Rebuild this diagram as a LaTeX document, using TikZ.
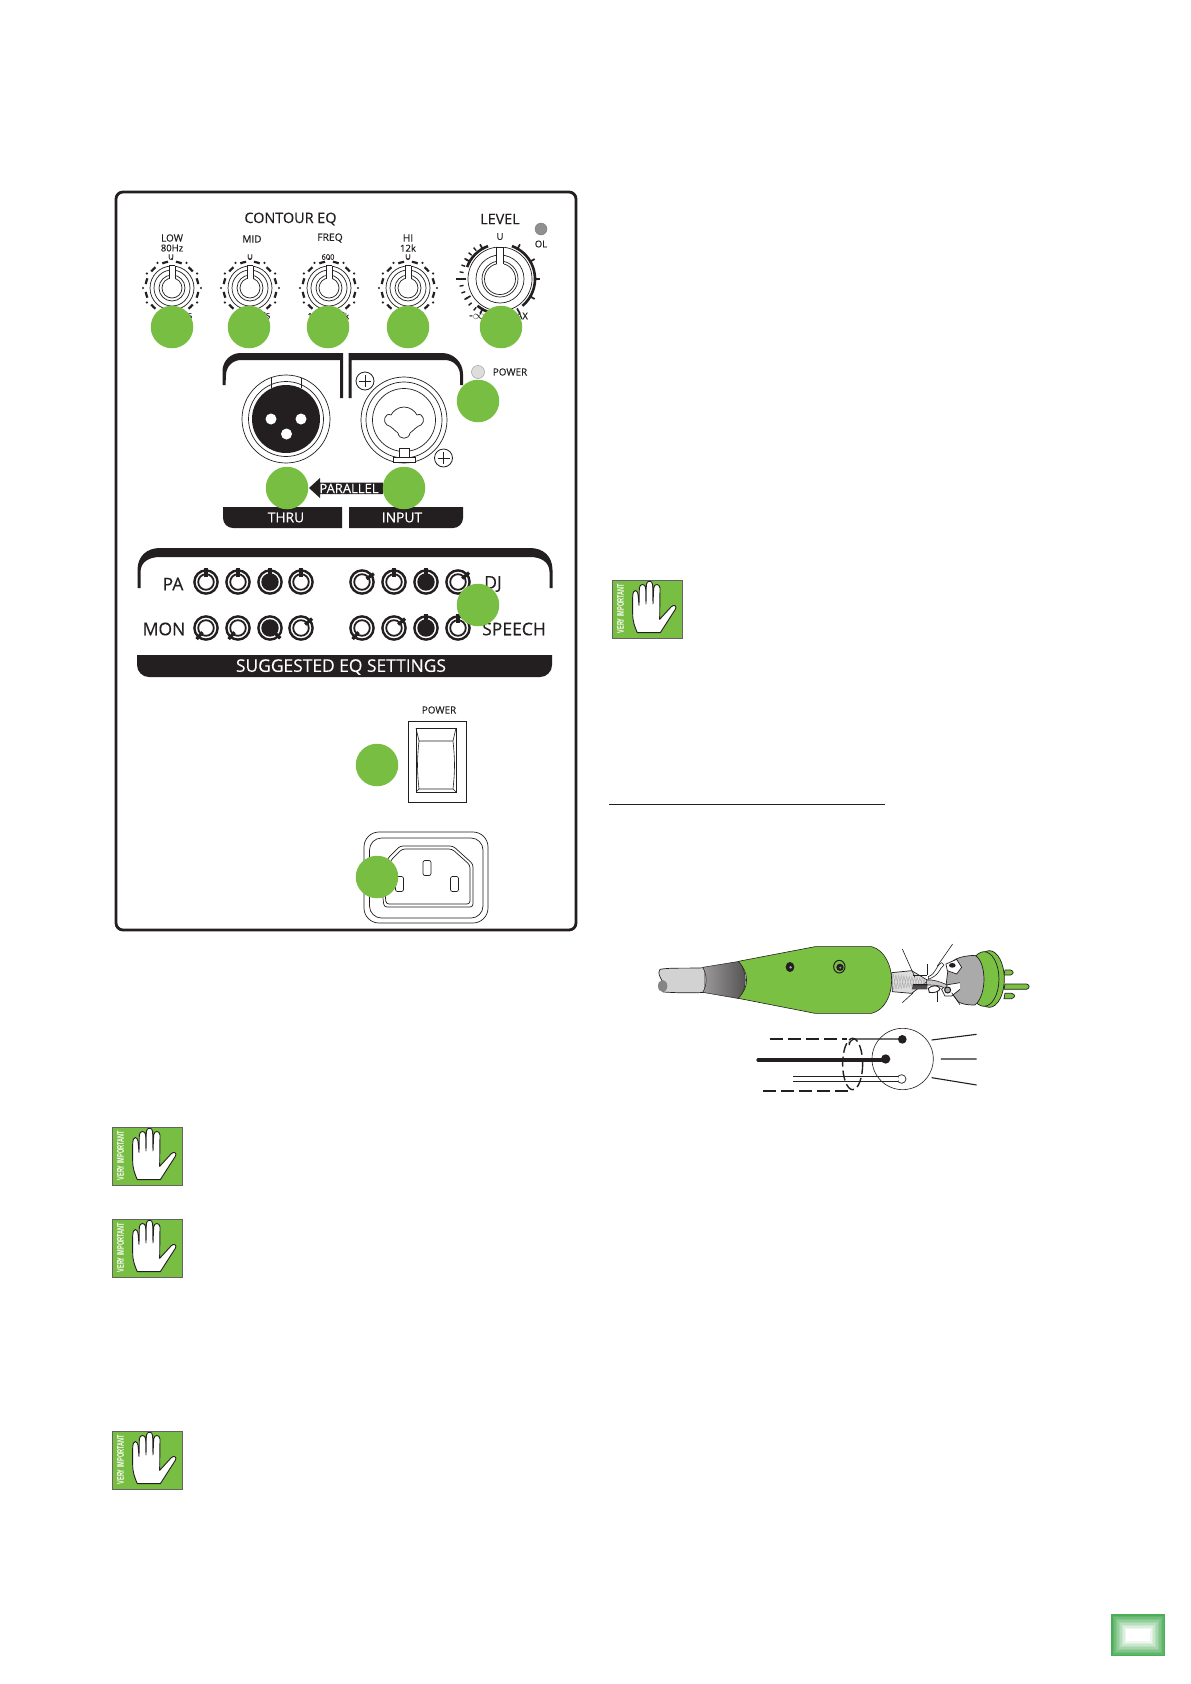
\documentclass[tikz,border=0pt]{standalone}
\usepackage{fontspec}
\setmainfont{Open Sans}[FakeBold=0.3]
\newfontfamily\vif{Liberation Sans}
\definecolor{grn}{HTML}{78BE43}
\definecolor{ink}{HTML}{231F20}
\definecolor{plugg}{HTML}{7AC143}
\definecolor{tabg}{HTML}{4DAE5A}
\tikzset{
  dot/.style={circle,fill=grn,draw=none,minimum size=42.5pt,inner sep=0pt},
  lab/.style={inner sep=0pt,text=ink},
  whitelab/.style={inner sep=0pt,text=white},
  thin1/.style={draw=ink,line width=.7pt},
}
\newcommand{\smallknob}[2]{%
  \begin{scope}[shift={(#1,#2)}]
    \foreach \r in {22,18,13,10} \draw[thin1] (0,0) circle (\r);
    \fill[white] (-3,-23) rectangle (3,-9);
    \draw[thin1] (-3,-22.5) -- (-3,-9.5) (3,-22.5) -- (3,-9.5) (-3,-22.5) -- (3,-22.5);
    \foreach \a in {-60,-30,...,240} \fill[ink] ({-\a}:29) circle (1.2);
    \foreach \a in {-45,-15,...,225} \draw[ink,line width=2.2pt] ({-\a-6.5}:26.5) arc ({-\a-6.5}:{-\a+6.5}:26.5);
  \end{scope}}
\newcommand{\eqknob}[4]{% x y angle filled
  \begin{scope}[shift={(#1,#2)}]
    \draw[ink,line width=2.4pt,fill=white] (0,0) circle (11.6);
    \draw[ink,line width=1.8pt,fill=#4] (0,0) circle (7.8);
    \draw[ink,line width=3.2pt] (#3:5.5) -- (#3:14.5);
  \end{scope}}
\newcommand{\veryimp}[2]{%
  \begin{scope}[shift={(#1,#2)},x=.3333pt,y=-.3333pt]
    \fill[grn] (0,0) rectangle (212,176);
    \draw[ink!70,line width=.5pt] (0,0) rectangle (212,176);
    \node[whitelab,rotate=90,xscale=.58,font=\vif\bfseries\fontsize{9.6}{10}\selectfont] at (26,86) {VERY IMPORTANT};
    \draw[ink,fill=white,line width=.9pt,line join=round]
      (62,52) .. controls (62,24) and (78,24) .. (79,52) -- (81,76)
      -- (82,24) .. controls (83,10) and (100,10) .. (101,24) -- (102,72)
      -- (103,14) .. controls (104,0) and (121,0) .. (122,14) -- (123,72)
      -- (125,24) .. controls (126,10) and (143,10) .. (144,24) -- (143,118)
      -- (178,80) .. controls (186,72) and (196,78) .. (190,88)
      -- (145,158) -- (76,158) .. controls (68,140) and (62,125) .. (62,100) -- cycle;
  \end{scope}}
\begin{document}
\begin{tikzpicture}[x=1pt,y=-1pt]
\useasboundingbox (0,0) rectangle (1191,1684);
\fill[white] (0,0) rectangle (1191,1684);
% panel frame
\draw[ink,line width=2.8pt,rounded corners=7pt] (116,192) rectangle (576,930);
% headings
\node[lab,font=\fontsize{14.4}{15}\selectfont] (contour) at (290.5,219) {CONTOUR EQ};
\node[lab,font=\fontsize{14.4}{15}\selectfont] (level) at (500,219) {LEVEL};
\node[lab,font=\fontsize{10}{10}\selectfont] (low) at (172,238) {LOW};
\node[lab,font=\fontsize{9.5}{10}\selectfont] (hz) at (172,248) {80Hz};
\node[lab,font=\fontsize{10}{10}\selectfont] (mid) at (252,239) {MID};
\node[lab,font=\fontsize{10.3}{10}\selectfont] (freq) at (330,238) {FREQ};
\node[lab,font=\fontsize{10}{10}\selectfont] (hi) at (408,238) {HI};
\node[lab,font=\fontsize{9.5}{10}\selectfont] (k12) at (408,248) {12k};
\node[lab,font=\fontsize{7.5}{8}\selectfont] (u1) at (171,257) {U};
\node[lab,font=\fontsize{7.5}{8}\selectfont] (u2) at (250,257) {U};
\node[lab,font=\fontsize{7.5}{8}\selectfont] (f600) at (328,257) {600};
\node[lab,font=\fontsize{7.5}{8}\selectfont] (u4) at (408,257) {U};
\node[lab,font=\fontsize{9.5}{10}\selectfont] (u5) at (500,236.5) {U};
% knobs
\smallknob{172}{288}
\smallknob{250}{288}
\smallknob{329}{288}
\smallknob{408}{288}
\begin{scope}[shift={(500,279)}]
  \foreach \r in {32,24,18,15.5} \draw[thin1] (0,0) circle (\r);
  \fill[white] (-3.5,-33) rectangle (3.5,-14);
  \draw[thin1] (-3.5,-32) -- (-3.5,-15) (3.5,-32) -- (3.5,-15) (-3.5,-32) -- (3.5,-32);
  \draw[ink,line width=2.6pt] (-70:35) arc (-70:50:35);
  \draw[ink,line width=2.6pt] (-110:35) arc (-110:-160:35);
  \draw[ink,line width=2.6pt] (130:35) arc (130:80:35);
  \foreach \a in {-60,-30,...,240} \draw[ink,line width=1.7pt] (\a:34) -- (\a:40);
  \foreach \a in {130,140,...,230} \draw[ink,line width=1.4pt] (\a:37) -- (\a:41);
  \draw[ink,line width=2pt] (180:34) -- (180:44);
\end{scope}
% scale labels partly behind the dots
\node[lab,font=\fontsize{8}{8}\selectfont] at (190,316) {5};
\node[lab,font=\fontsize{8}{8}\selectfont] at (268,316) {5};
\node[lab,font=\fontsize{8}{8}\selectfont] at (310,316) {1};
\node[lab,font=\fontsize{8}{8}\selectfont] at (347,316) {k};
\node[lab,font=\fontsize{12}{12}\selectfont] (inf) at (477,316.5) {-$\infty$};
\node[lab,font=\fontsize{9.3}{10}\selectfont] (max) at (518,316) {MAX};
% OL / power LEDs
\draw[ink!60,line width=.4pt,fill=ink!50] (541,229) circle (6);
\node[lab,font=\fontsize{9.5}{10}\selectfont] (ol) at (541,244) {OL};
\draw[ink!50,line width=.4pt,fill=ink!15] (478,372) circle (6.5);
\node[lab,font=\fontsize{9.9}{10}\selectfont] (pwr) at (510,372) {POWER};
% connector brackets
\fill[ink] (222.5,385) -- (222.5,371) arc (180:270:18) -- (343,353) -- (343,398) -- (340,398) -- (340,360) -- (241,360) arc (270:180:15) -- (225.5,385) -- cycle;
\fill[ink] (348.5,398) -- (348.5,353) -- (442,353) arc (270:360:21) -- (463,385) -- (460,385) -- (460,375) arc (360:270:15) -- (351.5,360) -- (351.5,398) -- cycle;
% XLR
\draw[thin1] (286,419) circle (44);
\draw[thin1] (286,419) circle (37.5);
\draw[thin1] (271,377.6) -- (271,388) (301,377.6) -- (301,388);
\fill[ink] (286,419) circle (34);
\foreach \x/\y in {271/419,301/419,286.5/434} \fill[white] (\x,\y) circle (5.5);
% combo
\draw[thin1] (404,420) circle (43);
\draw[thin1] (404,420) circle (38);
\draw[thin1] (404,420) circle (31.5);
\draw[thin1,line join=round] (404,407) .. controls (410,407) and (415,411) .. (417,415)
  .. controls (423,412) and (426,422) .. (421,425)
  .. controls (417,426) and (414,430) .. (410,433)
  .. controls (409,440) and (399,440) .. (398,433)
  .. controls (394,430) and (391,426) .. (387,425)
  .. controls (382,422) and (385,412) .. (391,415)
  .. controls (393,411) and (398,407) .. (404,407) -- cycle;
\draw[thin1,fill=white] (393.5,457) rectangle (415,462.5);
\draw[thin1,fill=white] (399,448.5) rectangle (409.5,457);
% plus screws
\foreach \x/\y in {365/381,443.5/458} {
  \draw[ink,line width=.8pt,fill=white] (\x,\y) circle (9);
  \draw[ink,line width=.7pt] (\x-6,\y) -- (\x+6,\y) (\x,\y-6) -- (\x,\y+6);
}
% parallel
\fill[ink] (309,488) -- (320,478) -- (320,482.5) -- (383,482.5) -- (383,494) -- (320,494) -- (320,498) -- cycle;
\node[whitelab,font=\fontsize{13}{13}\selectfont] (par) at (349,488.5) {PARALLEL};
% thru / input bars
\fill[ink] (223,507) -- (342,507) -- (342,528) -- (233,528) arc (90:180:10) -- cycle;
\fill[ink] (349,507) -- (463,507) -- (463,518) arc (0:90:10) -- (349,528) -- cycle;
\node[whitelab,font=\fontsize{13.8}{14}\selectfont] (thru) at (286,517.5) {THRU};
\node[whitelab,font=\fontsize{13.8}{14}\selectfont] (input) at (402,517.5) {INPUT};
% suggested EQ
\fill[ink] (137.5,588) -- (137.5,570) .. controls (137.5,556) and (147,548) .. (160,548) -- (530,548)
  .. controls (543,548) and (552.5,556) .. (552.5,570) -- (552.5,588) -- (549.5,588) -- (549.5,572)
  .. controls (549.5,562) and (541,557) .. (530,557) -- (160,557)
  .. controls (149,557) and (140.5,562) .. (140.5,572) -- (140.5,588) -- cycle;
\node[lab,font=\fontsize{17.5}{18}\selectfont] (pa) at (173,584) {PA};
\node[lab,font=\fontsize{17.5}{18}\selectfont] (mon) at (164,629) {MON};
\node[lab,font=\fontsize{17.5}{18}\selectfont] (dj) at (493,584) {DJ};
\node[lab,font=\fontsize{17.5}{18}\selectfont] (speech) at (514,629) {SPEECH};
\eqknob{206}{582}{-90}{white}
\eqknob{238}{582}{-90}{white}
\eqknob{270}{582}{-90}{ink}
\eqknob{301}{582}{-90}{white}
\eqknob{362}{582}{-35}{white}
\eqknob{394}{582}{-90}{white}
\eqknob{426}{582}{-90}{ink}
\eqknob{458}{582}{-40}{white}
\eqknob{206}{628}{130}{white}
\eqknob{238}{628}{130}{white}
\eqknob{270}{628}{45}{ink}
\eqknob{301}{628}{-40}{white}
\eqknob{362}{628}{130}{white}
\eqknob{394}{628}{-40}{white}
\eqknob{426}{628}{-90}{ink}
\eqknob{458}{628}{-90}{white}
\fill[ink] (137,655) -- (552,655) -- (552,665) arc (0:90:12) -- (149,677) arc (90:180:12) -- cycle;
\node[whitelab,font=\fontsize{17.4}{18}\selectfont] (sugg) at (341,667) {SUGGESTED EQ SETTINGS};
% power switch
\node[lab,font=\fontsize{9.9}{10}\selectfont] (sw) at (439,710) {POWER};
\draw[ink,line width=.8pt] (408,721) rectangle (466,802);
\draw[ink,line width=.8pt] (416,728) rectangle (456,792);
\draw[ink,line width=.6pt] (416,728) -- (419,741) -- (453,741) -- (456,728)
  (419,741) .. controls (417,760) and (417,770) .. (419,789) -- (453,789) .. controls (455,770) and (455,760) .. (453,741);
\draw[ink,line width=.6pt] (416,792) -- (419,789) (456,792) -- (453,789);
% IEC inlet
\draw[ink,line width=.7pt,rounded corners=15pt] (364,832) rectangle (488,923);
\draw[ink,line width=.7pt,rounded corners=12pt] (369.5,838) rectangle (483,918);
\draw[ink,line width=.7pt,rounded corners=3pt] (388,858) -- (400,846) -- (453,846) -- (473,864) -- (473,907) -- (384,907) -- (381,880) -- cycle;
\draw[ink,line width=.7pt,rounded corners=3pt] (391,860) -- (402,849) -- (452,849) -- (470,865) -- (470,904) -- (386,904) -- (384,880) -- cycle;
\foreach \x/\y in {427/868,399.5/884,454.5/884}
  \draw[ink,line width=.7pt,rounded corners=2pt] (\x-4,\y-7.5) rectangle (\x+4,\y+7.5);
% XLR plug illustration (coordinates in 3x crop units)
\begin{scope}[shift={(650,930)},x=.3333pt,y=-.3333pt]
  % cable
  \draw[thin1,fill=ink!20] (30,118) .. controls (60,112) and (120,116) .. (165,113) -- (165,187)
    .. controls (120,190) and (70,188) .. (40,186) .. controls (30,176) and (40,170) .. (35,150) .. controls (30,140) and (22,130) .. (30,118) -- cycle;
  \fill[ink!55] (38,168) ellipse (14 and 18);
  \draw[ink,line width=.5pt,left color=ink!45,right color=ink!78] (158,112) -- (268,94) .. controls (292,125) and (292,175) .. (268,206) -- (158,187)
    .. controls (172,165) and (172,135) .. (158,112) -- cycle;
  % braid
  \draw[thin1,fill=ink!15] (725,128) -- (785,122) -- (835,152) -- (785,190) -- (727,185) -- cycle;
  \foreach \i in {0,...,12} \draw[ink!40,line width=.4pt] (730+\i*8,132+\i) -- (722+\i*8,180-\i) (722+\i*8,134+\i) -- (730+\i*8,178-\i);
  % body
  \draw[ink,line width=.6pt,fill=plugg] (265,94) -- (495,50) -- (665,50) .. controls (705,60) and (725,110) .. (725,150)
    .. controls (725,195) and (705,240) .. (665,250) -- (495,250) -- (265,205) .. controls (298,170) and (298,130) .. (265,94) -- cycle;
  \fill[ink] (420,111) ellipse (13 and 15);
  \fill[ink!40] (422,112) circle (4);
  \draw[ink,line width=1pt] (568,110) ellipse (17 and 19);
  \fill[ink] (570,112) circle (11);
  \fill[ink!50] (571,113) circle (3.5);
  % rear flange and pins
  \draw[thin1,fill=plugg] (1065,120) -- (1082,120) .. controls (1092,123) and (1092,132) .. (1082,135) -- (1062,135) -- cycle;
  \draw[thin1,fill=plugg] (1065,162) -- (1130,162) .. controls (1140,165) and (1140,174) .. (1130,178) -- (1062,178) -- cycle;
  \draw[thin1,fill=plugg] (1065,190) -- (1085,190) .. controls (1097,193) and (1097,202) .. (1085,206) -- (1062,206) -- cycle;
  \draw[thin1,fill=plugg] (1018,147) ellipse (45 and 85);
  \draw[thin1,fill=plugg] (1002,147) ellipse (45 and 82);
  % shell
  \draw[thin1,fill=ink!38] (895,110) .. controls (905,90) and (925,78) .. (975,76) .. controls (1010,95) and (1012,195) .. (975,225) .. controls (950,225) and (935,222) .. (925,215) -- (888,168) -- cycle;
  \draw[thin1,fill=white] (888,102) -- (920,88) -- (935,112) -- (920,132) -- (892,122) -- cycle;
  \fill[ink] (907,106) ellipse (10 and 7);
  \draw[thin1,fill=white] (930,158) -- (888,165) -- (875,178) -- (885,198) -- (905,198) -- (930,178);
  \draw[ink,line width=1pt,fill=ink!40] (893,180) circle (9);
  % wires
  \draw[ink,line width=.6pt,fill=white] (835,140) .. controls (860,130) and (855,110) .. (875,98) -- (882,105) .. controls (868,115) and (870,135) .. (835,148) -- cycle;
  \draw[ink,line width=.6pt,fill=ink!25] (830,150) .. controls (850,148) and (870,155) .. (892,165) -- (885,175) .. controls (870,165) and (850,165) .. (830,165) -- cycle;
  \draw[ink,line width=.9pt,fill=white] (835,175) .. controls (845,165) and (865,165) .. (870,175) .. controls (870,185) and (850,190) .. (838,187) -- cycle;
  \fill[ink!80] (790,162) -- (832,162) -- (832,178) -- (785,178) -- cycle;
  \fill[ink] (790,162) -- (832,162) -- (832,166) -- (788,166) -- cycle;
  % leaders
  \draw[ink,line width=.6pt] (757,57) -- (795,142);
  \draw[ink,line width=.6pt] (908,42) -- (862,108);
  \draw[ink,line width=.6pt] (832,102) -- (832,135) (790,135) -- (832,135);
  \draw[ink,line width=.6pt] (757,218) -- (790,188);
  \draw[ink,line width=.6pt] (862,216) -- (862,182);
  \draw[ink,line width=.6pt] (930,224) -- (905,188);
  % schematic
  \draw[ink,line width=.6pt] (758,387) circle (92);
  \draw[ink,line width=1.2pt,dash pattern=on 13pt off 5pt] (360,327) -- (590,327);
  \draw[ink,line width=1.2pt,rounded corners=6pt] (598,335) -- (598,327) -- (750,327);
  \fill[ink] (757,328) circle (13);
  \draw[ink,line width=3.2pt,line cap=round] (324,390) -- (700,390);
  \fill[ink] (707,387) circle (14);
  \draw[ink,line width=.7pt] (430,440) -- (745,440) (430,455) -- (745,455);
  \draw[ink,line width=.7pt] (755,447) circle (13);
  \fill[white] (736,441) rectangle (745,454);
  \draw[ink,line width=1.2pt,dash pattern=on 13pt off 5pt] (340,483) -- (610,483);
  \draw[ink,line width=1.4pt,dash pattern=on 10pt off 4pt] (608,402) ellipse (30 and 77);
  \draw[ink,line width=1.1pt] (845,330) -- (980,313) (873,387) -- (980,387) (845,443) -- (980,465);
\end{scope}
% black rule
\draw[ink,line width=.8pt] (609,804.5) -- (885,804.5);
% green dots
\node[dot] (d1) at (172,327) {};
\node[dot] (d2) at (249,327) {};
\node[dot] (d3) at (328,327) {};
\node[dot] (d4) at (408,327) {};
\node[dot] (d5) at (501,327) {};
\node[dot] (d6) at (478,401) {};
\node[dot] (d7) at (287,488) {};
\node[dot] (d8) at (404,488) {};
\node[dot] (d9) at (478,605) {};
\node[dot] (d10) at (377,765) {};
\node[dot] (d11) at (377,877) {};
% very important icons
\veryimp{612}{580}
\veryimp{112}{1127}
\veryimp{112}{1219}
\veryimp{112}{1431}
% page tab
\foreach \i in {0,...,10} {
  \pgfmathsetmacro{\m}{100-\i*10}
  \fill[tabg!\m!white] (1111+\i*1.5,1614+\i*1.5) rectangle (1165-\i*1.5,1656-\i*1.5);
}
\end{tikzpicture}
\end{document}
